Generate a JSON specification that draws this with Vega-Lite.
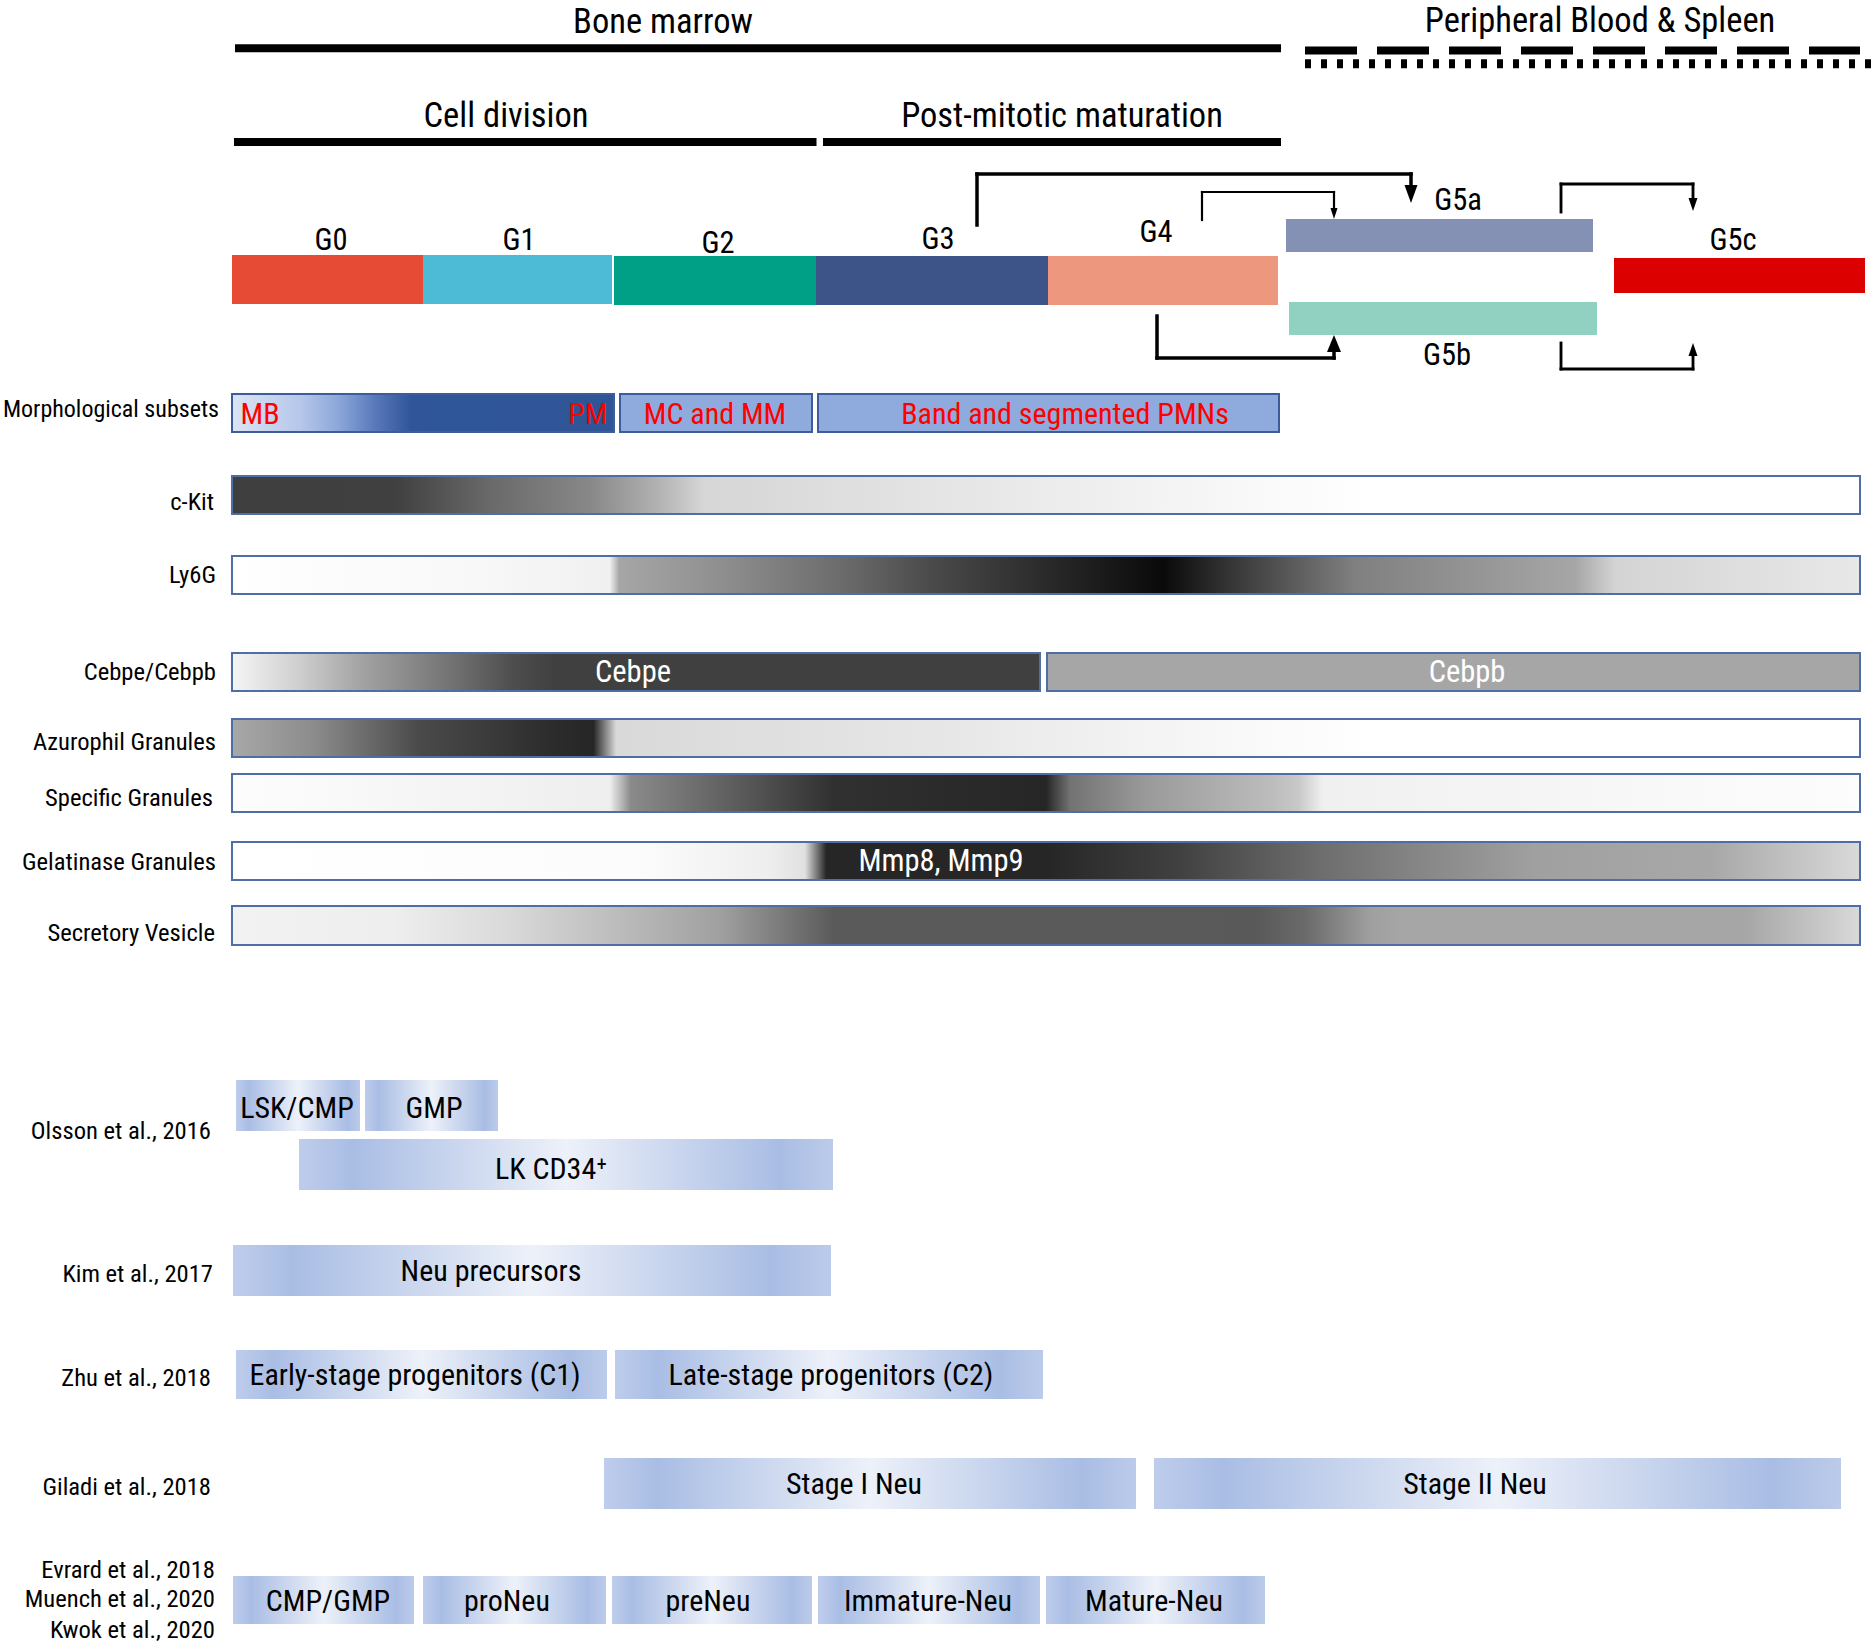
{
  "$schema": "https://vega.github.io/schema/vega-lite/v6.json",
  "width": 1876,
  "height": 1647,
  "autosize": {"type": "none"},
  "padding": 0,
  "background": "white",
  "config": {"view": {"stroke": null}, "text": {"font": "Liberation Sans Narrow, Arial Narrow, Roboto Condensed, Open Sans Condensed, DejaVu Sans Condensed, sans-serif"}},
  "datasets": {
    "lines": [
      {"type": "solid", "x": 235, "x2": 1281, "y": 48.3},
      {"type": "solid", "x": 234, "x2": 816.5, "y": 142},
      {"type": "solid", "x": 823, "x2": 1281, "y": 142},
      {"type": "dashed", "x": 1305, "x2": 1860, "y": 50.5},
      {"type": "dotted", "x": 1305, "x2": 1871, "y": 63.7}
    ],
    "stages": [
      {"stage": "G0", "x": 232, "x2": 423, "y": 255, "y2": 304},
      {"stage": "G1", "x": 423, "x2": 612, "y": 255, "y2": 304},
      {"stage": "G2", "x": 614, "x2": 816, "y": 256, "y2": 305},
      {"stage": "G3", "x": 816, "x2": 1048, "y": 256, "y2": 305},
      {"stage": "G4", "x": 1048, "x2": 1278, "y": 256, "y2": 305},
      {"stage": "G5a", "x": 1286, "x2": 1593, "y": 219, "y2": 252},
      {"stage": "G5b", "x": 1289, "x2": 1597, "y": 302, "y2": 335},
      {"stage": "G5c", "x": 1614, "x2": 1865, "y": 258, "y2": 293}
    ],
    "segs": [
      {"arrow": "A1", "w": "thick", "x": 977, "x2": 977, "y": 225, "y2": 174},
      {"arrow": "A1", "w": "thick", "x": 977, "x2": 1411, "y": 174, "y2": 174},
      {"arrow": "A1", "w": "thick", "x": 1411, "x2": 1411, "y": 174, "y2": 186},
      {"arrow": "A2", "w": "thin", "x": 1202, "x2": 1202, "y": 220, "y2": 192},
      {"arrow": "A2", "w": "thin", "x": 1202, "x2": 1334, "y": 192, "y2": 192},
      {"arrow": "A2", "w": "thin", "x": 1334, "x2": 1334, "y": 192, "y2": 209},
      {"arrow": "A3", "w": "thick", "x": 1157, "x2": 1157, "y": 316, "y2": 358},
      {"arrow": "A3", "w": "thick", "x": 1157, "x2": 1334, "y": 358, "y2": 358},
      {"arrow": "A3", "w": "thick", "x": 1334, "x2": 1334, "y": 358, "y2": 351},
      {"arrow": "A4", "w": "medium", "x": 1561, "x2": 1561, "y": 212, "y2": 184},
      {"arrow": "A4", "w": "medium", "x": 1561, "x2": 1693, "y": 184, "y2": 184},
      {"arrow": "A4", "w": "medium", "x": 1693, "x2": 1693, "y": 184, "y2": 199},
      {"arrow": "A5", "w": "medium", "x": 1561, "x2": 1561, "y": 343, "y2": 369},
      {"arrow": "A5", "w": "medium", "x": 1561, "x2": 1693, "y": 369, "y2": 369},
      {"arrow": "A5", "w": "medium", "x": 1693, "x2": 1693, "y": 369, "y2": 355}
    ],
    "heads": [
      {"arrow": "A1", "x": 1404.5, "y": 185, "y2": 185},
      {"arrow": "A1", "x": 1411, "y": 185, "y2": 203},
      {"arrow": "A1", "x": 1417.5, "y": 185, "y2": 185},
      {"arrow": "A2", "x": 1330.5, "y": 208, "y2": 208},
      {"arrow": "A2", "x": 1334, "y": 208, "y2": 219},
      {"arrow": "A2", "x": 1337.5, "y": 208, "y2": 208},
      {"arrow": "A3", "x": 1327, "y": 352, "y2": 352},
      {"arrow": "A3", "x": 1334, "y": 352, "y2": 335},
      {"arrow": "A3", "x": 1341, "y": 352, "y2": 352},
      {"arrow": "A4", "x": 1688.5, "y": 198, "y2": 198},
      {"arrow": "A4", "x": 1693, "y": 198, "y2": 211},
      {"arrow": "A4", "x": 1697.5, "y": 198, "y2": 198},
      {"arrow": "A5", "x": 1688.5, "y": 356, "y2": 356},
      {"arrow": "A5", "x": 1693, "y": 356, "y2": 343},
      {"arrow": "A5", "x": 1697.5, "y": 356, "y2": 356}
    ],
    "gbars": [
      {"id": "mbpm", "x": 232, "x2": 614, "y": 394, "y2": 432},
      {"id": "mc", "x": 620, "x2": 812, "y": 394, "y2": 432},
      {"id": "band", "x": 818, "x2": 1279, "y": 394, "y2": 432},
      {"id": "ckit", "x": 232, "x2": 1860, "y": 476, "y2": 514},
      {"id": "ly6g", "x": 232, "x2": 1860, "y": 556, "y2": 594},
      {"id": "cebpe", "x": 232, "x2": 1040, "y": 653, "y2": 691},
      {"id": "cebpb", "x": 1047, "x2": 1860, "y": 653, "y2": 691},
      {"id": "azur", "x": 232, "x2": 1860, "y": 719, "y2": 757},
      {"id": "spec", "x": 232, "x2": 1860, "y": 774, "y2": 812},
      {"id": "gel", "x": 232, "x2": 1860, "y": 842, "y2": 880},
      {"id": "sec", "x": 232, "x2": 1860, "y": 906, "y2": 945}
    ],
    "study": [
      {"label": "LSK/CMP", "x": 236, "x2": 360, "y": 1080, "y2": 1131},
      {"label": "GMP", "x": 365, "x2": 498, "y": 1080, "y2": 1131},
      {"label": "LK CD34+", "x": 299, "x2": 833, "y": 1139, "y2": 1190},
      {"label": "Neu precursors", "x": 233, "x2": 831, "y": 1245, "y2": 1296},
      {"label": "Early-stage progenitors (C1)", "x": 236, "x2": 607, "y": 1350, "y2": 1399},
      {"label": "Late-stage progenitors (C2)", "x": 615, "x2": 1043, "y": 1350, "y2": 1399},
      {"label": "Stage I Neu", "x": 604, "x2": 1136, "y": 1458, "y2": 1509},
      {"label": "Stage II Neu", "x": 1154, "x2": 1841, "y": 1458, "y2": 1509},
      {"label": "CMP/GMP", "x": 233, "x2": 414, "y": 1576, "y2": 1624},
      {"label": "proNeu", "x": 423, "x2": 606, "y": 1576, "y2": 1624},
      {"label": "preNeu", "x": 612, "x2": 812, "y": 1576, "y2": 1624},
      {"label": "Immature-Neu", "x": 818, "x2": 1040, "y": 1576, "y2": 1624},
      {"label": "Mature-Neu", "x": 1046, "x2": 1265, "y": 1576, "y2": 1624}
    ],
    "texts": [
      {"kind": "title", "text": "Bone marrow", "x": 663, "y": 23},
      {"kind": "title", "text": "Peripheral Blood & Spleen", "x": 1600, "y": 22},
      {"kind": "title", "text": "Cell division", "x": 506, "y": 117},
      {"kind": "title", "text": "Post-mitotic maturation", "x": 1062, "y": 117},
      {"kind": "stage", "text": "G0", "x": 331, "y": 241},
      {"kind": "stage", "text": "G1", "x": 519, "y": 241},
      {"kind": "stage", "text": "G2", "x": 718, "y": 244},
      {"kind": "stage", "text": "G3", "x": 938, "y": 240},
      {"kind": "stage", "text": "G4", "x": 1156, "y": 233},
      {"kind": "stage", "text": "G5a", "x": 1458, "y": 201},
      {"kind": "stage", "text": "G5b", "x": 1447, "y": 356},
      {"kind": "stage", "text": "G5c", "x": 1733, "y": 241},
      {"kind": "red", "text": "MB", "x": 260, "y": 415},
      {"kind": "red", "text": "PM", "x": 588, "y": 415},
      {"kind": "red", "text": "MC and MM", "x": 715, "y": 415},
      {"kind": "red", "text": "Band and segmented PMNs", "x": 1065, "y": 415},
      {"kind": "morph", "text": "Morphological subsets", "x": 219, "y": 410},
      {"kind": "rowlab", "text": "c-Kit", "x": 214, "y": 503},
      {"kind": "rowlab", "text": "Ly6G", "x": 216, "y": 576},
      {"kind": "rowlab", "text": "Cebpe/Cebpb", "x": 216, "y": 673},
      {"kind": "rowlab", "text": "Azurophil Granules", "x": 216, "y": 743},
      {"kind": "rowlab", "text": "Specific Granules", "x": 213, "y": 799},
      {"kind": "rowlab", "text": "Gelatinase Granules", "x": 216, "y": 863},
      {"kind": "rowlab", "text": "Secretory Vesicle", "x": 215, "y": 934},
      {"kind": "rowlab", "text": "Olsson et al., 2016", "x": 211, "y": 1132},
      {"kind": "rowlab", "text": "Kim et al., 2017", "x": 213, "y": 1275},
      {"kind": "rowlab", "text": "Zhu et al., 2018", "x": 211, "y": 1379},
      {"kind": "rowlab", "text": "Giladi et al., 2018", "x": 211, "y": 1488},
      {"kind": "rowlab", "text": "Evrard et al., 2018", "x": 215, "y": 1571},
      {"kind": "rowlab", "text": "Muench et al., 2020", "x": 215, "y": 1600},
      {"kind": "rowlab", "text": "Kwok et al., 2020", "x": 215, "y": 1631},
      {"kind": "white", "text": "Cebpe", "x": 633, "y": 673},
      {"kind": "white", "text": "Cebpb", "x": 1467, "y": 673},
      {"kind": "white", "text": "Mmp8, Mmp9", "x": 941, "y": 862},
      {"kind": "bottom", "text": "LSK/CMP", "x": 297, "y": 1109},
      {"kind": "bottom", "text": "GMP", "x": 434, "y": 1109},
      {"kind": "bottom", "text": "LK CD34⁺", "x": 551, "y": 1170},
      {"kind": "bottom", "text": "Neu precursors", "x": 491, "y": 1272},
      {"kind": "bottom", "text": "Early-stage progenitors (C1)", "x": 415, "y": 1376},
      {"kind": "bottom", "text": "Late-stage progenitors (C2)", "x": 831, "y": 1376},
      {"kind": "bottom", "text": "Stage I Neu", "x": 854, "y": 1485},
      {"kind": "bottom", "text": "Stage II Neu", "x": 1475, "y": 1485},
      {"kind": "bottom", "text": "CMP/GMP", "x": 328, "y": 1602},
      {"kind": "bottom", "text": "proNeu", "x": 507, "y": 1602},
      {"kind": "bottom", "text": "preNeu", "x": 708, "y": 1602},
      {"kind": "bottom", "text": "Immature-Neu", "x": 928, "y": 1602},
      {"kind": "bottom", "text": "Mature-Neu", "x": 1154, "y": 1602}
    ]
  },
  "encoding": {
    "x": {"field": "x", "type": "quantitative", "scale": {"domain": [0, 1876], "nice": false, "zero": false}, "axis": null},
    "y": {"field": "y", "type": "quantitative", "scale": {"domain": [0, 1647], "nice": false, "zero": false, "reverse": true}, "axis": null}
  },
  "layer": [
    {"data": {"name": "lines"}, "transform": [{"filter": "datum.type === 'solid'"}],
     "mark": {"type": "rule", "color": "black", "strokeWidth": 8}, "encoding": {"x2": {"field": "x2"}}},
    {"data": {"name": "lines"}, "transform": [{"filter": "datum.type === 'dashed'"}],
     "mark": {"type": "rule", "color": "black", "strokeWidth": 8, "strokeDash": [52, 20]}, "encoding": {"x2": {"field": "x2"}}},
    {"data": {"name": "lines"}, "transform": [{"filter": "datum.type === 'dotted'"}],
     "mark": {"type": "rule", "color": "black", "strokeWidth": 9, "strokeDash": [6, 10]}, "encoding": {"x2": {"field": "x2"}}},
    {"data": {"name": "stages"}, "mark": {"type": "rect"},
     "encoding": {"x2": {"field": "x2"}, "y2": {"field": "y2"},
       "color": {"field": "stage", "type": "nominal", "legend": null,
         "scale": {"domain": ["G0", "G1", "G2", "G3", "G4", "G5a", "G5b", "G5c"],
                   "range": ["#E64B35", "#4DBBD5", "#00A087", "#3C5488", "#EC977E", "#8491B4", "#91D1C2", "#DC0000"]}}}},
    {"data": {"name": "segs"}, "mark": {"type": "rule", "color": "black", "strokeCap": "square"},
     "encoding": {"x2": {"field": "x2"}, "y2": {"field": "y2"},
       "strokeWidth": {"field": "w", "type": "ordinal", "legend": null, "scale": {"domain": ["thin", "medium", "thick"], "range": [2.2, 3.5, 5.5]}}}},
    {"data": {"name": "heads"}, "mark": {"type": "area", "color": "black", "opacity": 1, "interpolate": "linear"},
     "encoding": {"y2": {"field": "y2"}, "detail": {"field": "arrow", "type": "nominal"}}},
    {"data": {"name": "gbars"}, "transform": [{"filter": "datum.id === 'mbpm'"}],
     "mark": {"type": "rect", "stroke": "#3d5c9c", "strokeWidth": 2,
       "fill": {"gradient": "linear", "x1": 0, "y1": 0, "x2": 1, "y2": 0, "stops": [
         {"offset": 0, "color": "#dce4f4"}, {"offset": 0.18, "color": "#b5c7ea"}, {"offset": 0.28, "color": "#8ca6da"},
         {"offset": 0.38, "color": "#5676b8"}, {"offset": 0.47, "color": "#30559a"}, {"offset": 1, "color": "#2f5597"}]}},
     "encoding": {"x2": {"field": "x2"}, "y2": {"field": "y2"}}},
    {"data": {"name": "gbars"}, "transform": [{"filter": "datum.id === 'mc' || datum.id === 'band'"}],
     "mark": {"type": "rect", "stroke": "#3d5c9c", "strokeWidth": 2, "fill": "#8faadc"},
     "encoding": {"x2": {"field": "x2"}, "y2": {"field": "y2"}}},
    {"data": {"name": "gbars"}, "transform": [{"filter": "datum.id === 'ckit'"}],
     "mark": {"type": "rect", "stroke": "#4f6ea8", "strokeWidth": 2,
       "fill": {"gradient": "linear", "x1": 0, "y1": 0, "x2": 1, "y2": 0, "stops": [
         {"offset": 0, "color": "#3f3f3f"}, {"offset": 0.1, "color": "#404040"}, {"offset": 0.16, "color": "#6a6a6a"},
         {"offset": 0.22, "color": "#888888"}, {"offset": 0.26, "color": "#b0b0b0"}, {"offset": 0.29, "color": "#d6d6d6"},
         {"offset": 0.43, "color": "#e4e4e4"}, {"offset": 0.6, "color": "#f6f6f6"}, {"offset": 0.7, "color": "#ffffff"}, {"offset": 1, "color": "#ffffff"}]}},
     "encoding": {"x2": {"field": "x2"}, "y2": {"field": "y2"}}},
    {"data": {"name": "gbars"}, "transform": [{"filter": "datum.id === 'ly6g'"}],
     "mark": {"type": "rect", "stroke": "#4f6ea8", "strokeWidth": 2,
       "fill": {"gradient": "linear", "x1": 0, "y1": 0, "x2": 1, "y2": 0, "stops": [
         {"offset": 0, "color": "#ffffff"}, {"offset": 0.15, "color": "#f8f8f8"}, {"offset": 0.232, "color": "#f0f0f0"},
         {"offset": 0.238, "color": "#a6a6a6"}, {"offset": 0.3, "color": "#8f8f8f"}, {"offset": 0.37, "color": "#6e6e6e"},
         {"offset": 0.43, "color": "#4a4a4a"}, {"offset": 0.5, "color": "#2a2a2a"}, {"offset": 0.572, "color": "#0a0a0a"},
         {"offset": 0.62, "color": "#3c3c3c"}, {"offset": 0.69, "color": "#808080"}, {"offset": 0.8, "color": "#9f9f9f"},
         {"offset": 0.825, "color": "#a6a6a6"}, {"offset": 0.85, "color": "#d4d4d4"}, {"offset": 1, "color": "#e8e8e8"}]}},
     "encoding": {"x2": {"field": "x2"}, "y2": {"field": "y2"}}},
    {"data": {"name": "gbars"}, "transform": [{"filter": "datum.id === 'cebpe'"}],
     "mark": {"type": "rect", "stroke": "#4f6ea8", "strokeWidth": 2,
       "fill": {"gradient": "linear", "x1": 0, "y1": 0, "x2": 1, "y2": 0, "stops": [
         {"offset": 0, "color": "#f5f5f5"}, {"offset": 0.08, "color": "#d0d0d0"}, {"offset": 0.16, "color": "#a3a3a3"},
         {"offset": 0.27, "color": "#737373"}, {"offset": 0.35, "color": "#4d4d4d"}, {"offset": 0.4, "color": "#404040"}, {"offset": 1, "color": "#404040"}]}},
     "encoding": {"x2": {"field": "x2"}, "y2": {"field": "y2"}}},
    {"data": {"name": "gbars"}, "transform": [{"filter": "datum.id === 'cebpb'"}],
     "mark": {"type": "rect", "stroke": "#4f6ea8", "strokeWidth": 2, "fill": "#a6a6a6"},
     "encoding": {"x2": {"field": "x2"}, "y2": {"field": "y2"}}},
    {"data": {"name": "gbars"}, "transform": [{"filter": "datum.id === 'azur'"}],
     "mark": {"type": "rect", "stroke": "#4f6ea8", "strokeWidth": 2,
       "fill": {"gradient": "linear", "x1": 0, "y1": 0, "x2": 1, "y2": 0, "stops": [
         {"offset": 0, "color": "#a8a8a8"}, {"offset": 0.05, "color": "#8c8c8c"}, {"offset": 0.115, "color": "#4a4a4a"},
         {"offset": 0.2, "color": "#2b2b2b"}, {"offset": 0.222, "color": "#262626"}, {"offset": 0.236, "color": "#d9d9d9"},
         {"offset": 0.43, "color": "#e6e6e6"}, {"offset": 0.6, "color": "#f7f7f7"}, {"offset": 0.7, "color": "#ffffff"}, {"offset": 1, "color": "#ffffff"}]}},
     "encoding": {"x2": {"field": "x2"}, "y2": {"field": "y2"}}},
    {"data": {"name": "gbars"}, "transform": [{"filter": "datum.id === 'spec'"}],
     "mark": {"type": "rect", "stroke": "#4f6ea8", "strokeWidth": 2,
       "fill": {"gradient": "linear", "x1": 0, "y1": 0, "x2": 1, "y2": 0, "stops": [
         {"offset": 0, "color": "#fdfdfd"}, {"offset": 0.2, "color": "#f0f0f0"}, {"offset": 0.232, "color": "#efefef"},
         {"offset": 0.245, "color": "#8a8a8a"}, {"offset": 0.3, "color": "#636363"}, {"offset": 0.37, "color": "#303030"},
         {"offset": 0.5, "color": "#262626"}, {"offset": 0.515, "color": "#737373"}, {"offset": 0.56, "color": "#999999"},
         {"offset": 0.64, "color": "#bdbdbd"}, {"offset": 0.655, "color": "#c8c8c8"}, {"offset": 0.67, "color": "#f0f0f0"}, {"offset": 1, "color": "#fdfdfd"}]}},
     "encoding": {"x2": {"field": "x2"}, "y2": {"field": "y2"}}},
    {"data": {"name": "gbars"}, "transform": [{"filter": "datum.id === 'gel'"}],
     "mark": {"type": "rect", "stroke": "#4f6ea8", "strokeWidth": 2,
       "fill": {"gradient": "linear", "x1": 0, "y1": 0, "x2": 1, "y2": 0, "stops": [
         {"offset": 0, "color": "#ffffff"}, {"offset": 0.25, "color": "#fcfcfc"}, {"offset": 0.33, "color": "#eeeeee"},
         {"offset": 0.352, "color": "#e0e0e0"}, {"offset": 0.365, "color": "#262626"}, {"offset": 0.5, "color": "#262626"},
         {"offset": 0.58, "color": "#404040"}, {"offset": 0.67, "color": "#6e6e6e"}, {"offset": 0.727, "color": "#858585"},
         {"offset": 0.8, "color": "#a0a0a0"}, {"offset": 0.91, "color": "#a8a8a8"}, {"offset": 1, "color": "#d9d9d9"}]}},
     "encoding": {"x2": {"field": "x2"}, "y2": {"field": "y2"}}},
    {"data": {"name": "gbars"}, "transform": [{"filter": "datum.id === 'sec'"}],
     "mark": {"type": "rect", "stroke": "#4f6ea8", "strokeWidth": 2,
       "fill": {"gradient": "linear", "x1": 0, "y1": 0, "x2": 1, "y2": 0, "stops": [
         {"offset": 0, "color": "#f2f2f2"}, {"offset": 0.1, "color": "#eeeeee"}, {"offset": 0.17, "color": "#d9d9d9"},
         {"offset": 0.23, "color": "#bfbfbf"}, {"offset": 0.3, "color": "#a0a0a0"}, {"offset": 0.37, "color": "#5a5a5a"},
         {"offset": 0.63, "color": "#595959"}, {"offset": 0.66, "color": "#6b6b6b"}, {"offset": 0.7, "color": "#a0a0a0"},
         {"offset": 0.72, "color": "#a6a6a6"}, {"offset": 0.93, "color": "#a6a6a6"}, {"offset": 1, "color": "#d9d9d9"}]}},
     "encoding": {"x2": {"field": "x2"}, "y2": {"field": "y2"}}},
    {"data": {"name": "study"},
     "mark": {"type": "rect",
       "fill": {"gradient": "linear", "x1": 0, "y1": 0, "x2": 1, "y2": 0, "stops": [
         {"offset": 0, "color": "#bfcdec"}, {"offset": 0.1, "color": "#a9bde4"}, {"offset": 0.5, "color": "#edf1f9"},
         {"offset": 0.9, "color": "#a9bde4"}, {"offset": 1, "color": "#bccbea"}]}},
     "encoding": {"x2": {"field": "x2"}, "y2": {"field": "y2"}}},
    {"data": {"name": "texts"}, "transform": [{"filter": "datum.kind === 'title'"}],
     "mark": {"type": "text", "fontSize": 34.5, "align": "center", "baseline": "middle", "color": "black"},
     "encoding": {"text": {"field": "text"}}},
    {"data": {"name": "texts"}, "transform": [{"filter": "datum.kind === 'stage'"}],
     "mark": {"type": "text", "fontSize": 30.5, "align": "center", "baseline": "middle", "color": "black"},
     "encoding": {"text": {"field": "text"}}},
    {"data": {"name": "texts"}, "transform": [{"filter": "datum.kind === 'red'"}],
     "mark": {"type": "text", "fontSize": 30, "align": "center", "baseline": "middle", "color": "#ff0000"},
     "encoding": {"text": {"field": "text"}}},
    {"data": {"name": "texts"}, "transform": [{"filter": "datum.kind === 'morph'"}],
     "mark": {"type": "text", "fontSize": 24, "align": "right", "baseline": "middle", "color": "black"},
     "encoding": {"text": {"field": "text"}}},
    {"data": {"name": "texts"}, "transform": [{"filter": "datum.kind === 'rowlab'"}],
     "mark": {"type": "text", "fontSize": 24.6, "align": "right", "baseline": "middle", "color": "black"},
     "encoding": {"text": {"field": "text"}}},
    {"data": {"name": "texts"}, "transform": [{"filter": "datum.kind === 'white'"}],
     "mark": {"type": "text", "fontSize": 30.5, "align": "center", "baseline": "middle", "color": "#ffffff"},
     "encoding": {"text": {"field": "text"}}},
    {"data": {"name": "texts"}, "transform": [{"filter": "datum.kind === 'bottom'"}],
     "mark": {"type": "text", "fontSize": 30, "align": "center", "baseline": "middle", "color": "black"},
     "encoding": {"text": {"field": "text"}}}
  ]
}
